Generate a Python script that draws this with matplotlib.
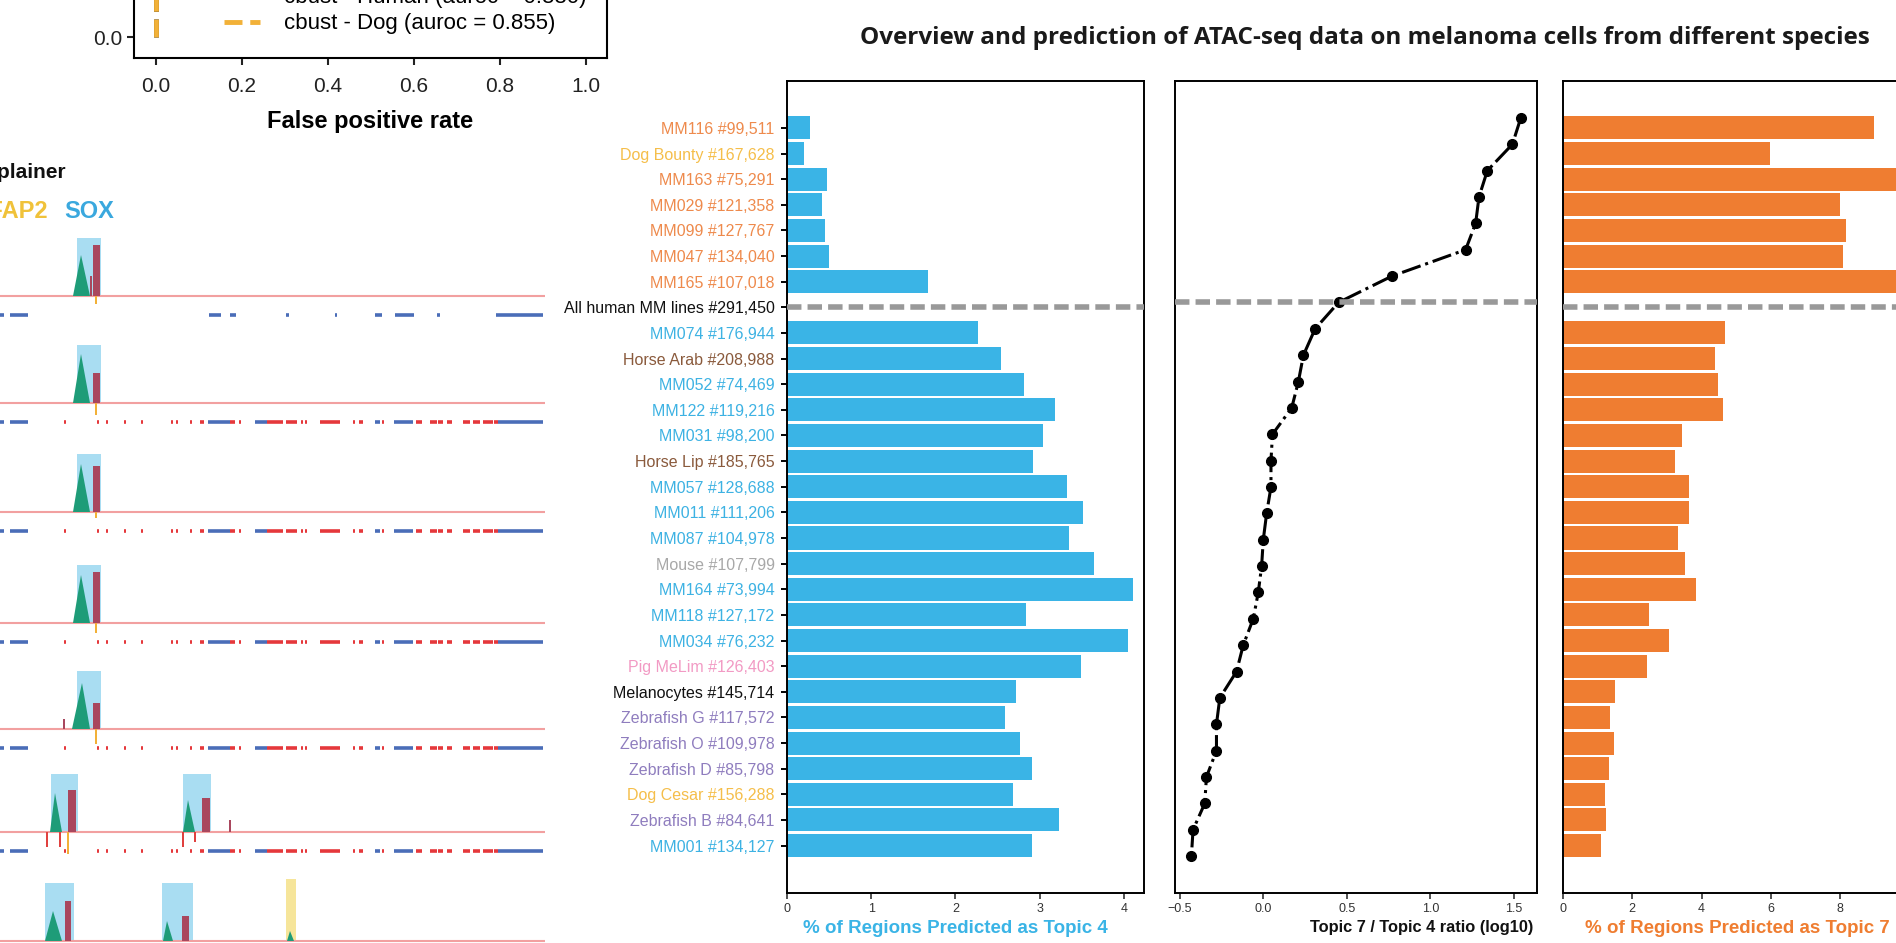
import numpy as np
import matplotlib
matplotlib.use("Agg")
import matplotlib.pyplot as plt

plt.rcParams["font.family"] = ["Liberation Sans", "DejaVu Sans"]

W, H = 1896, 943

# ---------------- data: samples (top to bottom) ----------------
SAMPLES = [
    "MM116 #99,511", "Dog Bounty #167,628", "MM163 #75,291", "MM029 #121,358",
    "MM099 #127,767", "MM047 #134,040", "MM165 #107,018", "All human MM lines #291,450",
    "MM074 #176,944", "Horse Arab #208,988", "MM052 #74,469", "MM122 #119,216",
    "MM031 #98,200", "Horse Lip #185,765", "MM057 #128,688", "MM011 #111,206",
    "MM087 #104,978", "Mouse #107,799", "MM164 #73,994", "MM118 #127,172",
    "MM034 #76,232", "Pig MeLim #126,403", "Melanocytes #145,714", "Zebrafish G #117,572",
    "Zebrafish O #109,978", "Zebrafish D #85,798", "Dog Cesar #156,288", "Zebrafish B #84,641",
    "MM001 #134,127",
]
SAMPLE_GROUP = [
    "mes", "dog", "mes", "mes", "mes", "mes", "mes", "all",
    "mel", "horse", "mel", "mel", "mel", "horse", "mel", "mel",
    "mel", "mouse", "mel", "mel", "mel", "pig", "melanocyte", "zebrafish",
    "zebrafish", "zebrafish", "dog", "zebrafish", "mel",
]
TOPIC4_PCT = [0.27, 0.20, 0.47, 0.42, 0.45, 0.50, 1.67, np.nan,
              2.27, 2.54, 2.82, 3.18, 3.04, 2.92, 3.32, 3.52,
              3.35, 3.65, 4.11, 2.84, 4.05, 3.49, 2.72, 2.59,
              2.77, 2.91, 2.69, 3.23, 2.91]
TOPIC7_PCT = [8.99, 5.98, 10.3, 8.00, 8.17, 8.08, 9.9, np.nan,
              4.67, 4.40, 4.48, 4.63, 3.44, 3.23, 3.64, 3.64,
              3.33, 3.53, 3.83, 2.47, 3.05, 2.43, 1.50, 1.37,
              1.47, 1.32, 1.20, 1.24, 1.10]
RATIO_LOG10 = [1.54, 1.49, 1.34, 1.29, 1.27, 1.21, 0.77, 0.45,
               0.31, 0.24, 0.21, 0.17, 0.055, 0.046, 0.046, 0.02,
               0.0, -0.01, -0.03, -0.06, -0.12, -0.16, -0.26, -0.28,
               -0.28, -0.34, -0.35, -0.42, -0.43]
SPLIT_ROW = 7  # "All human MM lines"

GROUP_COLORS = {
    "mes": "#EE8A4C", "dog": "#F5BE4A", "all": "#111111", "mel": "#3DB2E3",
    "horse": "#8A5A3C", "mouse": "#A8A8A8", "pig": "#F29AC4",
    "melanocyte": "#111111", "zebrafish": "#8F7DBE",
}
BLUE = "#3AB4E6"
ORANGE = "#EF7D31"
DASH_GREY = "#999999"

TITLE = "Overview and prediction of ATAC-seq data on melanoma cells from different species"

# ---------------- data: ROC (only the bottom is in view) ----------------
ROC_FPR_HUMAN = [0.0, 0.0, 0.05, 0.1, 0.2, 0.4, 0.7, 1.0]
ROC_TPR_HUMAN = [0.0, 0.55, 0.70, 0.78, 0.86, 0.93, 0.98, 1.0]
ROC_FPR_DOG = [0.0, 0.0, 0.05, 0.1, 0.2, 0.4, 0.7, 1.0]
ROC_TPR_DOG = [0.0, 0.50, 0.64, 0.72, 0.81, 0.90, 0.97, 1.0]

# ---------------- data: contribution-score tracks ----------------
TRACK_BASELINES = [296, 403, 512, 623, 729, 832, 941]
SOX_SPANS = [[(77, 101)], [(77, 101)], [(77, 101)], [(77, 101)], [(77, 101)],
             [(51, 78), (183, 211)], [(45, 74), (162, 193)]]
TFAP2_SPANS = [[], [], [], [], [], [], [(286, 296)]]
# green peaks: (start, apex, end, height)
GREEN_PEAKS = [
    [(73, 81, 90, 41)], [(73, 81, 90, 49)], [(73, 81, 90, 48)], [(73, 81, 90, 48)],
    [(72, 82, 90, 46)], [(50, 55, 62, 39), (183, 188, 195, 32)],
    [(45, 53, 62, 30), (163, 167, 173, 20), (287, 290, 294, 10)],
]
# red peaks: (x, width, height)
RED_PEAKS = [
    [(93, 7, 51), (90, 2, 20)], [(93, 7, 30)], [(93, 7, 46)], [(93, 7, 51)],
    [(93, 7, 26), (63, 2, 10)], [(68, 8, 42), (202, 8, 34), (229, 2, 12)],
    [(65, 6, 40), (182, 7, 25)],
]
# negative contributions: (x, depth, colour)
NEG_PEAKS = [
    [(96, 8, "o")], [(96, 12, "o")], [(96, 6, "o")], [(96, 10, "o")], [(96, 15, "o")],
    [(47, 15, "r"), (60, 15, "r"), (68, 22, "o"), (183, 15, "r"), (195, 10, "r")],
    [],
]
SEG_BLUE_T1 = [(0, 4), (10, 28), (209, 221), (230, 236), (286, 289), (335, 337),
               (375, 382), (395, 414), (437, 440), (496, 543)]
SEG_BLUE = [(0, 4), (10, 28), (208, 230), (255, 267), (375, 380), (394, 413), (498, 543)]
SEG_RED = [(64, 66), (97, 99), (106, 108), (124, 126), (141, 143), (171, 173), (176, 178),
           (190, 192), (200, 204), (230, 235), (239, 241), (267, 283), (286, 297),
           (301, 303), (305, 307), (320, 340), (353, 355), (359, 363), (382, 384),
           (416, 422), (430, 437), (438, 443), (447, 452), (463, 470), (473, 480),
           (483, 493), (494, 498)]


def fig_rect(left, top, right, bottom):
    return [left / W, 1 - bottom / H, (right - left) / W, (bottom - top) / H]


fig = plt.figure(figsize=(W / 100, H / 100), dpi=100)

# ================= ROC panel (cropped at top) =================
ax_roc = fig.add_axes(fig_rect(134, -360, 607, 58))
ax_roc.plot(ROC_FPR_HUMAN, ROC_TPR_HUMAN, color="black", lw=3.5, ls="--",
            label="cbust - Human (auroc = 0.880)")
ax_roc.plot(ROC_FPR_DOG, ROC_TPR_DOG, color="#F2B138", lw=3.5, ls="--",
            label="cbust - Dog (auroc = 0.855)", zorder=3)
ax_roc.set_xlim(-0.05, 1.05)
ax_roc.set_ylim(-0.055, 1.05)
ax_roc.set_xticks([0.0, 0.2, 0.4, 0.6, 0.8, 1.0])
ax_roc.set_yticks([0.0, 0.2, 0.4, 0.6, 0.8, 1.0])
ax_roc.tick_params(labelsize=15, length=5, width=1.5, colors="#222222")
ax_roc.tick_params(axis="x", pad=9)
for s in ax_roc.spines.values():
    s.set_linewidth(1.5)
ax_roc.set_xlabel("False positive rate", fontsize=17, fontweight="bold", labelpad=10)
ax_roc.legend(loc="lower left", bbox_to_anchor=(0.167, 0.03), frameon=False,
              fontsize=16, borderpad=0, labelspacing=0.25, handlelength=1.6,
              handletextpad=1.1)

# ================= tracks =================
fig.text(66 / W, 1 - 172 / H, "DeepExplainer", ha="right", va="center",
         fontsize=15, fontweight="bold", color="#111111")
fig.text(48 / W, 1 - 212 / H, "TFAP2", ha="right", va="center",
         fontsize=17, fontweight="bold", color="#F0C23A")
fig.text(64 / W, 1 - 212 / H, "SOX", ha="left", va="center",
         fontsize=17, fontweight="bold", color="#3AA8DE")

for i, base in enumerate(TRACK_BASELINES):
    ax = fig.add_axes(fig_rect(0, base - 62, 545, base + 28))
    ax.set_xlim(0, 545)
    ax.set_ylim(-28, 62)
    ax.axis("off")
    for a, b in SOX_SPANS[i]:
        ax.fill_between([a, b], 0, 58, color="#A9DDF2", lw=0, zorder=0)
    for a, b in TFAP2_SPANS[i]:
        ax.fill_between([a, b], 0, 62, color="#F6E59A", lw=0, zorder=0)
    ax.axhline(0, color="#F2A0A0", lw=1.5, zorder=1)
    for x0, xa, x1, h in GREEN_PEAKS[i]:
        ax.fill([x0, xa, x1], [0, h, 0], color="#1E9C78", lw=0, zorder=2)
    for x, w, h in RED_PEAKS[i]:
        ax.bar(x, h, width=w, align="edge", color="#A9475E", lw=0, zorder=2)
    for x, d, c in NEG_PEAKS[i]:
        col = "#F2B138" if c == "o" else "#E0413F"
        ax.bar(x, -d, width=1.6, color=col, lw=0, zorder=2)
    blue = SEG_BLUE_T1 if i == 0 else SEG_BLUE
    for a, b in blue:
        ax.hlines(-19, a, b, color="#4A6DB8", lw=2.6)
    if i > 0:
        for a, b in SEG_RED:
            ax.hlines(-19, a, b, color="#E5383B", lw=2.6)

# ================= right part =================
fig.text(1365 / W, 1 - 38 / H, TITLE, ha="center", va="center", fontsize=17.5,
         fontweight="bold", family=["Open Sans", "DejaVu Sans"], color="#1A1A1A")

rows = np.arange(len(SAMPLES))
keep = [r for r in rows if r != SPLIT_ROW]
label_colors = [GROUP_COLORS[g] for g in SAMPLE_GROUP]

ax1 = fig.add_axes(fig_rect(787, 81, 1144, 893))
ax2 = fig.add_axes(fig_rect(1175, 81, 1537, 893))
ax3 = fig.add_axes(fig_rect(1563, 81, 1944, 893))

for ax in (ax1, ax2, ax3):
    for s in ax.spines.values():
        s.set_linewidth(1.4)
    ax.tick_params(axis="x", labelsize=9, length=4, width=1.2, colors="#333333", pad=3)

# panel 1: topic 4
ax1.barh(keep, [TOPIC4_PCT[r] for r in keep], height=0.9, color=BLUE, lw=0)
ax1.axhline(SPLIT_ROW, color=DASH_GREY, lw=4, dashes=(2.6, 1.1), zorder=4)
ax1.set_ylim(29.85, -1.83)
ax1.set_xlim(0, 4.24)
ax1.set_xticks([0, 1, 2, 3, 4])
ax1.set_yticks(rows)
ax1.set_yticklabels(SAMPLES, fontsize=11.5)
for t, c in zip(ax1.get_yticklabels(), label_colors):
    t.set_color(c)
ax1.tick_params(axis="y", length=4, width=1.4, pad=5)
ax1.set_xlabel("% of Regions Predicted as Topic 4", fontsize=13.5, fontweight="bold",
               color=BLUE)
ax1.xaxis.set_label_coords((955 - 787) / 357, -0.033)

# panel 2: ratio
ax2.plot(RATIO_LOG10, rows, color="black", ls="-.", lw=2.2, marker="o", ms=7, zorder=2)
ax2.axhline(SPLIT_ROW, color=DASH_GREY, lw=4, dashes=(2.6, 1.1), zorder=4)
ax2.set_ylim(29.40, -1.40)
ax2.set_xlim(-0.528, 1.637)
ax2.set_xticks([-0.5, 0.0, 0.5, 1.0, 1.5])
ax2.set_yticks([])
ax2.set_xlabel("Topic 7 / Topic 4 ratio (log10)", fontsize=11.8, fontweight="bold",
               color="#111111")
ax2.xaxis.set_label_coords((1422 - 1175) / 362, -0.033)

# panel 3: topic 7
ax3.barh(keep, [TOPIC7_PCT[r] for r in keep], height=0.9, color=ORANGE, lw=0)
ax3.axhline(SPLIT_ROW, color=DASH_GREY, lw=4, dashes=(2.6, 1.1), zorder=4)
ax3.set_ylim(29.85, -1.83)
ax3.set_xlim(0, 11)
ax3.set_xticks([0, 2, 4, 6, 8, 10])
ax3.set_yticks([])
ax3.set_xlabel("% of Regions Predicted as Topic 7", fontsize=13.5, fontweight="bold",
               color=ORANGE)
ax3.xaxis.set_label_coords((1737 - 1563) / 381, -0.033)

fig.savefig("out.png", dpi=100)
